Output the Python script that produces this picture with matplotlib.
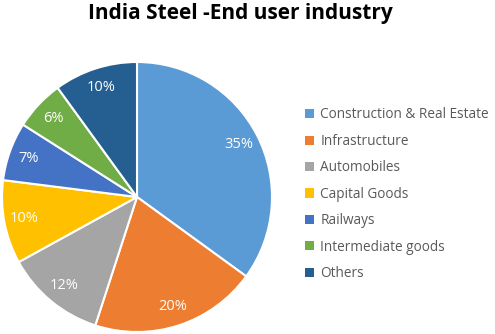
import matplotlib.pyplot as plt
from matplotlib.patches import Patch

categories = ['Construction & Real Estate', 'Infrastructure', 'Automobiles',
              'Capital Goods', 'Railways', 'Intermediate goods', 'Others']
shares = [35, 20, 12, 10, 7, 6, 10]
colors = ['#5B9BD5', '#ED7D31', '#A5A5A5', '#FFC000', '#4472C4', '#70AD47', '#255E91']

plt.rcParams['font.family'] = ['Open Sans', 'DejaVu Sans']

W, H = 495, 334
fig = plt.figure(figsize=(W / 100, H / 100), dpi=100)

# pie area in pixels: center (137, 197 from top), radius 135
cx, cy, r = 137, H - 197, 135
ax = fig.add_axes([(cx - r) / W, (cy - r) / H, 2 * r / W, 2 * r / H])
wedges, texts, autotexts = ax.pie(
    shares, colors=colors, startangle=90, counterclock=False,
    autopct='%d%%', pctdistance=0.85, radius=1,
    wedgeprops=dict(edgecolor='white', linewidth=1.5),
    textprops=dict(color='white', fontsize=10.5))
ax.set_xlim(-1, 1)
ax.set_ylim(-1, 1)
ax.set_aspect('equal')
ax.axis('off')

fig.text(240 / W, 1 - 14 / H, 'India Steel -End user industry', ha='center', va='center',
         fontsize=15, fontweight='bold', color='black')

handles = [Patch(facecolor=c, edgecolor='none') for c in colors]
leg = fig.legend(handles, categories, loc='upper left',
                 bbox_to_anchor=(300 / W, 1 - 102 / H), frameon=False,
                 fontsize=9.8, handlelength=0.65, handleheight=0.65,
                 handletextpad=0.45, labelspacing=0.84, borderaxespad=0)
for t in leg.get_texts():
    t.set_color('#595959')

fig.savefig('out.png', dpi=100)
